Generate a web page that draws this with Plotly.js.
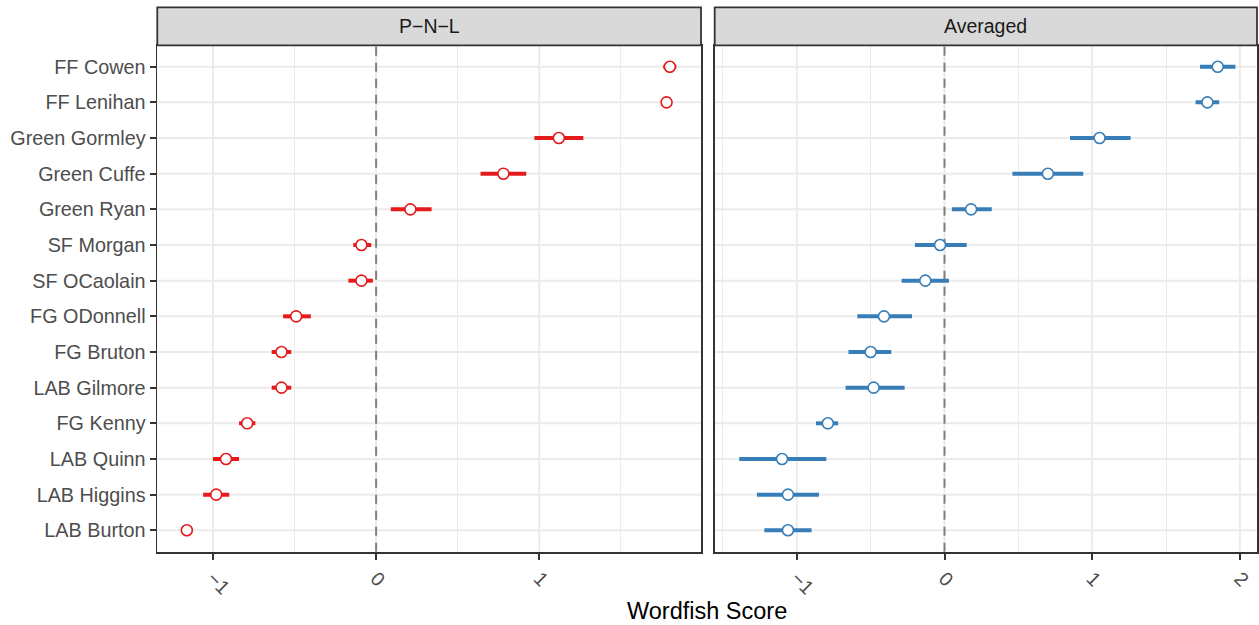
<!DOCTYPE html>
<html>
<head>
<meta charset="utf-8">
<script src="https://cdn.plot.ly/plotly-3.0.1.min.js"></script>
<style>
  html, body { margin: 0; padding: 0; background: #ffffff; }
  #chart { width: 1259px; height: 625px; }
</style>
</head>
<body>
<div id="chart"></div>
<script>
// Politicians, top to bottom
const speakers = ["FF Cowen", "FF Lenihan", "Green Gormley", "Green Cuffe", "Green Ryan",
  "SF Morgan", "SF OCaolain", "FG ODonnell", "FG Bruton", "LAB Gilmore",
  "FG Kenny", "LAB Quinn", "LAB Higgins", "LAB Burton"];

// Panel names
const panelNames = ["P\u2212N\u2212L", "Averaged"];

// P-N-L panel: estimate and interval
const pnlScore = [1.80, 1.78, 1.12, 0.78, 0.21, -0.09, -0.09, -0.49, -0.58, -0.58, -0.79, -0.92, -0.98, -1.16];
const pnlLow   = [1.76, 1.76, 0.97, 0.64, 0.09, -0.14, -0.17, -0.57, -0.64, -0.64, -0.84, -1.00, -1.06, -1.19];
const pnlHigh  = [1.84, 1.81, 1.27, 0.92, 0.34, -0.03, -0.02, -0.40, -0.52, -0.52, -0.74, -0.84, -0.90, -1.13];

// Averaged panel: estimate and interval
const avgScore = [1.85, 1.78, 1.05, 0.70, 0.18, -0.03, -0.13, -0.41, -0.50, -0.48, -0.79, -1.10, -1.06, -1.06];
const avgLow   = [1.73, 1.70, 0.85, 0.46, 0.05, -0.20, -0.29, -0.59, -0.65, -0.67, -0.87, -1.39, -1.27, -1.22];
const avgHigh  = [1.97, 1.86, 1.26, 0.94, 0.32, 0.15, 0.03, -0.22, -0.36, -0.27, -0.72, -0.80, -0.85, -0.90];

// Tick labels
const pnlTickVals = [-1, 0, 1];
const pnlTickText = ["\u22121", "0", "1"];
const avgTickVals = [-1, 0, 1, 2];
const avgTickText = ["\u22121", "0", "1", "2"];
const minorTickVals = [-1.5, -0.5, 0.5, 1.5];

const axisTitle = "Wordfish Score";
const refLineAt = 0;

const RED = "#E41A1C";
const BLUE = "#377EB8";

function plusErr(hi, v) { return hi.map((h, i) => Math.max(0, h - v[i])); }
function minusErr(lo, v) { return lo.map((l, i) => Math.max(0, v[i] - l)); }

function trace(scores, lo, hi, color, xa, ya) {
  return {
    type: "scatter", mode: "markers",
    x: scores, y: speakers, xaxis: xa, yaxis: ya,
    marker: { symbol: "circle", size: 11, color: "#ffffff", line: { color: color, width: 1.6 } },
    error_x: { type: "data", symmetric: false, array: plusErr(hi, scores), arrayminus: minusErr(lo, scores),
      thickness: 4, width: 0, color: color },
    hoverinfo: "x+y", showlegend: false, cliponaxis: false
  };
}

const data = [
  trace(pnlScore, pnlLow, pnlHigh, RED, "x", "y"),
  trace(avgScore, avgLow, avgHigh, BLUE, "x2", "y2")
];

const W = 1259, H = 625;
const px = v => v / W;
const py = v => (H - v) / H;

const L1 = 157.3, R1 = 701, L2 = 714.7, R2 = 1257;
const TOP = 45.3, BOT = 551.7, STRIPTOP = 7.3;

const gridColor = "#EBEBEB";
const border = "#333333";
const FONT = "Liberation Sans, Arial, sans-serif";

function xAxis(domain, range, vals, text, anchor) {
  return {
    domain: domain, range: range, anchor: anchor,
    tickmode: "array", tickvals: vals, ticktext: text, tickangle: 45,
    ticks: "outside", ticklen: 6, tickwidth: 2, tickcolor: border,
    tickfont: { family: FONT, size: 19.5, color: "#4D4D4D" },
    showgrid: false,
    minor: { tickmode: "array", tickvals: minorTickVals, showgrid: true, gridcolor: gridColor, gridwidth: 1, ticks: "" },
    zeroline: false, showline: true, mirror: true, linecolor: border, linewidth: 1.8,
    fixedrange: true
  };
}

function yAxis(anchor, showLabels) {
  return {
    domain: [py(BOT), py(TOP)], anchor: anchor,
    type: "category", categoryorder: "array", categoryarray: speakers,
    range: [speakers.length - 0.4, -0.6],
    ticks: showLabels ? "outside" : "", ticklen: 6, tickwidth: 2, tickcolor: border,
    showticklabels: showLabels,
    tickfont: { family: FONT, size: 19.8, color: "#4D4D4D" },
    showgrid: false,
    zeroline: false, showline: true, mirror: true, linecolor: border, linewidth: 1.8,
    fixedrange: true
  };
}

// Major grid lines and the dashed reference line, as shapes under the data
const shapes = [];
[["x", "y", pnlTickVals], ["x2", "y2", avgTickVals]].forEach(([xa, ya, vals]) => {
  vals.forEach(v => shapes.push({ type: "line", layer: "below", xref: xa, yref: ya + " domain",
    x0: v, x1: v, y0: 0, y1: 1, line: { color: gridColor, width: 2 } }));
  speakers.forEach(s => shapes.push({ type: "line", layer: "below", xref: xa + " domain", yref: ya,
    x0: 0, x1: 1, y0: s, y1: s, line: { color: gridColor, width: 2 } }));
  shapes.push({ type: "line", layer: "below", xref: xa, yref: ya + " domain",
    x0: refLineAt, x1: refLineAt, y0: 0, y1: 1, line: { color: "#7F7F7F", width: 2, dash: "9px,7px" } });
});
// Facet strips
[[L1, R1], [L2, R2]].forEach(([a, b]) => shapes.push({ type: "rect", xref: "paper", yref: "paper",
  x0: px(a), x1: px(b), y0: py(TOP), y1: py(STRIPTOP), fillcolor: "#D9D9D9", line: { color: border, width: 1.8 } }));

const layout = {
  width: W, height: H,
  margin: { l: 0, r: 0, t: 0, b: 0 },
  paper_bgcolor: "#ffffff", plot_bgcolor: "rgba(0,0,0,0)",
  font: { family: FONT, color: "#1A1A1A" },
  showlegend: false,
  xaxis: xAxis([px(L1), px(R1)], [-1.341, 1.991], pnlTickVals, pnlTickText, "y"),
  xaxis2: xAxis([px(L2), px(R2)], [-1.556, 2.116], avgTickVals, avgTickText, "y2"),
  yaxis: yAxis("x", true),
  yaxis2: Object.assign(yAxis("x2", false), { matches: "y" }),
  shapes: shapes,
  annotations: [
    { xref: "paper", yref: "paper", x: px((L1 + R1) / 2), y: py((TOP + STRIPTOP) / 2),
      text: panelNames[0], showarrow: false, xanchor: "center", yanchor: "middle",
      font: { size: 19.5, color: "#1A1A1A" } },
    { xref: "paper", yref: "paper", x: px((L2 + R2) / 2), y: py((TOP + STRIPTOP) / 2),
      text: panelNames[1], showarrow: false, xanchor: "center", yanchor: "middle",
      font: { size: 19.5, color: "#1A1A1A" } },
    { xref: "paper", yref: "paper", x: px((L1 + R2) / 2), y: py(611),
      text: axisTitle, showarrow: false, xanchor: "center", yanchor: "middle",
      font: { size: 23.5, color: "#000000" } }
  ]
};

Plotly.newPlot("chart", data, layout, { staticPlot: true, displayModeBar: false });
</script>
</body>
</html>
